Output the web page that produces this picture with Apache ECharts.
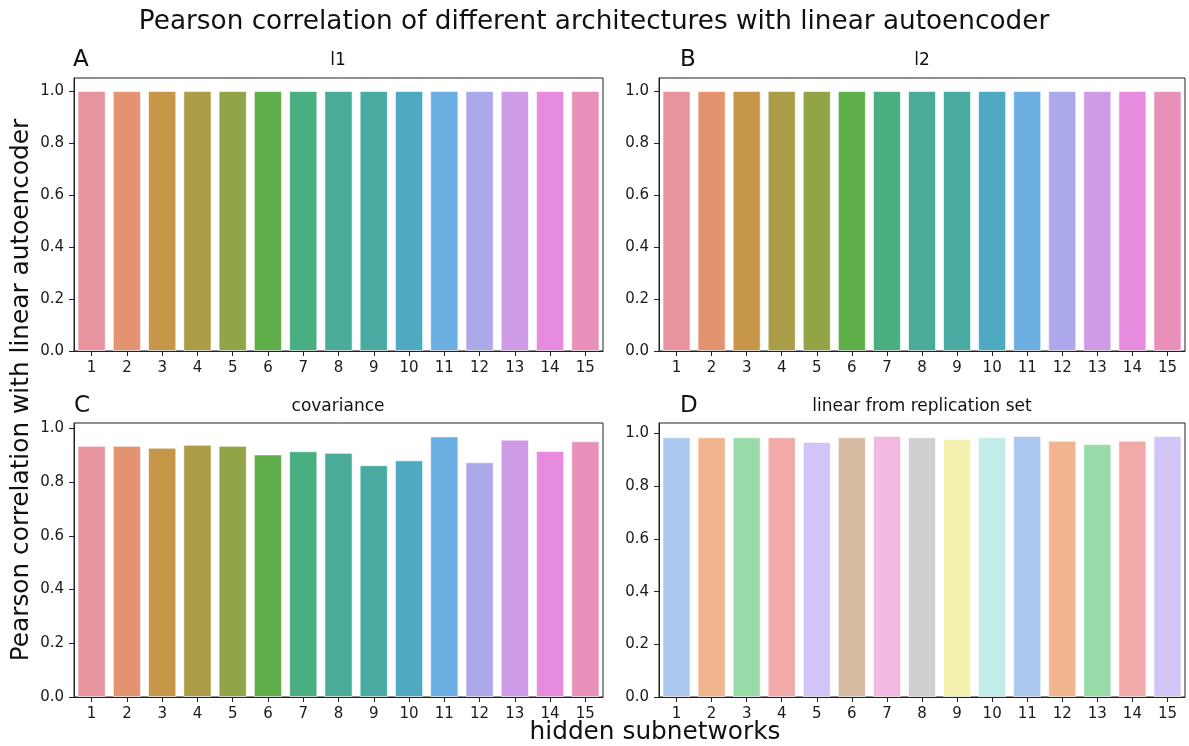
<!DOCTYPE html>
<html>
<head>
<meta charset="utf-8">
<script src="https://cdn.jsdelivr.net/npm/echarts@6/dist/echarts.min.js"></script>
<style>
html,body{margin:0;padding:0;background:#fff;}
#chart{width:1189px;height:746px;}
</style>
</head>
<body>
<div id="chart"></div>
<script>
// ---- data ----
const categories = ['1','2','3','4','5','6','7','8','9','10','11','12','13','14','15'];
const l1Values  = [1,1,1,1,1,1,1,1,1,1,1,1,1,1,1];
const l2Values  = [1,1,1,1,1,1,1,1,1,1,1,1,1,1,1];
const covValues = [0.935,0.935,0.928,0.939,0.935,0.903,0.915,0.909,0.863,0.881,0.970,0.874,0.958,0.916,0.952];
const replValues = [0.986,0.986,0.986,0.986,0.968,0.986,0.991,0.986,0.979,0.986,0.991,0.973,0.960,0.973,0.991];
const yTicks = [0,0.2,0.4,0.6,0.8,1.0];
const panelTitles = ['l1','l2','covariance','linear from replication set'];
const panelLetters = ['A','B','C','D'];

const huslColors = ['#e8949f','#e3936f','#c69749','#ab9d47','#91a448','#60ae49','#49ae80','#49ab98',
  '#4aaba3','#4eaac0','#6aaee2','#aca9ea','#cf9be7','#e78bde','#e88fba'];
const pastelColors = ['#abc8ee','#f0b48f','#98dba9','#f2aaa9','#d2c4f7','#d6baa1','#f1b8e1','#cfcfcf',
  '#f4f2ae','#c0ece9','#abc8ee','#f0b48f','#98dba9','#f2aaa9','#d2c4f7'];

// ---- layout ----
const FONT = 'DejaVu Sans';
const grids = [
  {left:74, top:78, width:529, height:273},
  {left:659, top:78, width:526, height:273},
  {left:74, top:423, width:529, height:274},
  {left:659, top:423, width:526, height:274}
];
const yMax = [1.05, 1.05, 1.02, 1.04];
const seriesData = [l1Values, l2Values, covValues, replValues];
const palettes = [huslColors, huslColors, huslColors, pastelColors];

const chart = echarts.init(document.getElementById('chart'), null, {renderer:'canvas'});

const option = {
  backgroundColor:'#fff',
  animation:false,
  grid: grids.map(g => Object.assign({show:true, borderColor:'#222', borderWidth:1, containLabel:false}, g)),
  xAxis: grids.map((g,i) => ({
    type:'category', gridIndex:i, data:categories,
    axisLine:{show:true, lineStyle:{color:'#222', width:1}},
    axisTick:{show:true, alignWithLabel:true, length:5, lineStyle:{color:'#222'}},
    axisLabel:{color:'#1a1a1a', fontFamily:FONT, fontSize:15, margin:10, interval:0},
    splitLine:{show:false}
  })),
  yAxis: grids.map((g,i) => ({
    type:'value', gridIndex:i, min:0, max:yMax[i], interval:0.2,
    axisLine:{show:true, lineStyle:{color:'#222', width:1}},
    axisTick:{show:true, length:5, lineStyle:{color:'#222'}, customValues:yTicks},
    axisLabel:{color:'#1a1a1a', fontFamily:FONT, fontSize:15, margin:10, customValues:yTicks,
      formatter:v => v.toFixed(1)},
    splitLine:{show:false}
  })),
  series: seriesData.map((vals,i) => ({
    type:'bar', xAxisIndex:i, yAxisIndex:i,
    barCategoryGap:'20%',
    data: vals.map((v,j) => ({value:v, itemStyle:{color:palettes[i][j]}})),
    itemStyle:{borderColor:'rgba(255,255,255,0.6)', borderWidth:1}
  })),
  graphic: [
    {type:'text', x:594, y:22, style:{text:'Pearson correlation of different architectures with linear autoencoder',
      font:'26.3px "DejaVu Sans"', fill:'#111', textAlign:'center', textVerticalAlign:'middle'}},
    {type:'text', x:22, y:390, rotation:Math.PI/2, style:{text:'Pearson correlation with linear autoencoder',
      font:'24.8px "DejaVu Sans"', fill:'#111', textAlign:'center', textVerticalAlign:'middle'}},
    {type:'text', x:655, y:733, style:{text:'hidden subnetworks',
      font:'24.8px "DejaVu Sans"', fill:'#111', textAlign:'center', textVerticalAlign:'middle'}},
    {type:'text', x:73, y:60, style:{text:panelLetters[0], font:'23px "DejaVu Sans"', fill:'#111', textAlign:'left', textVerticalAlign:'middle'}},
    {type:'text', x:680, y:60, style:{text:panelLetters[1], font:'23px "DejaVu Sans"', fill:'#111', textAlign:'left', textVerticalAlign:'middle'}},
    {type:'text', x:74, y:406, style:{text:panelLetters[2], font:'23px "DejaVu Sans"', fill:'#111', textAlign:'left', textVerticalAlign:'middle'}},
    {type:'text', x:680, y:406, style:{text:panelLetters[3], font:'23px "DejaVu Sans"', fill:'#111', textAlign:'left', textVerticalAlign:'middle'}},
    {type:'text', x:338, y:61, style:{text:panelTitles[0], font:'17px "DejaVu Sans"', fill:'#111', textAlign:'center', textVerticalAlign:'middle'}},
    {type:'text', x:922, y:61, style:{text:panelTitles[1], font:'17px "DejaVu Sans"', fill:'#111', textAlign:'center', textVerticalAlign:'middle'}},
    {type:'text', x:338, y:407, style:{text:panelTitles[2], font:'17px "DejaVu Sans"', fill:'#111', textAlign:'center', textVerticalAlign:'middle'}},
    {type:'text', x:922, y:407, style:{text:panelTitles[3], font:'17px "DejaVu Sans"', fill:'#111', textAlign:'center', textVerticalAlign:'middle'}}
  ]
};
chart.setOption(option);
</script>
</body>
</html>
